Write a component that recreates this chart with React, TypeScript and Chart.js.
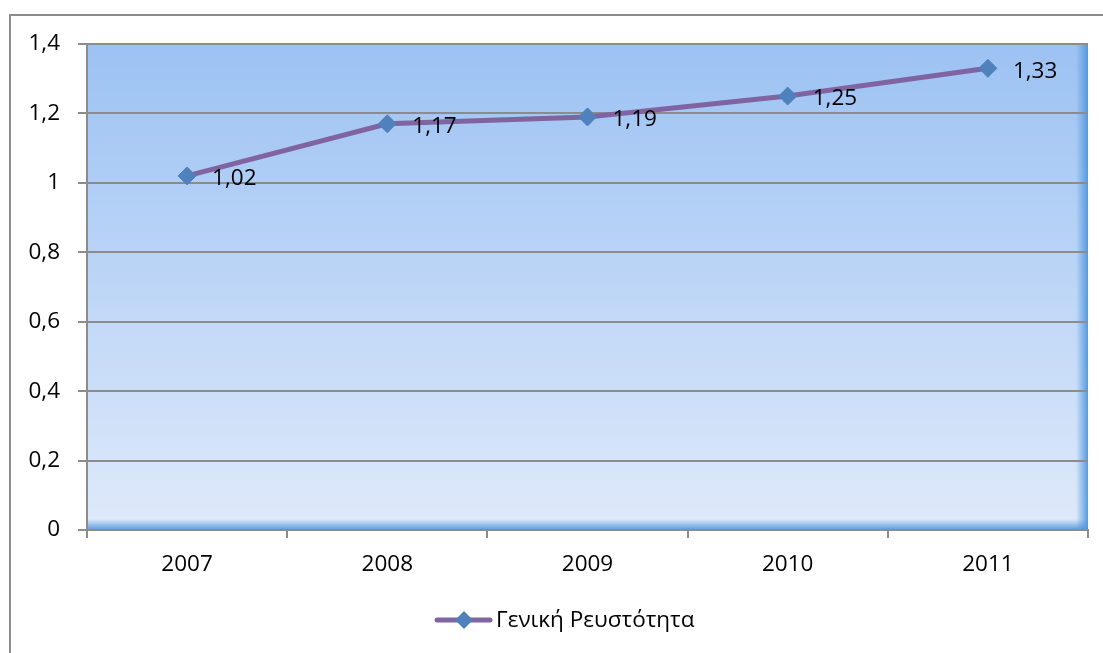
import React, { useEffect, useRef } from "react";
import { Chart, registerables } from "chart.js";

Chart.register(...registerables);

const categories = ["2007", "2008", "2009", "2010", "2011"];
const values = [1.02, 1.17, 1.19, 1.25, 1.33];
const seriesLabel = "Γενική Ρευστότητα";
const yTicks = [0, 0.2, 0.4, 0.6, 0.8, 1, 1.2, 1.4];

const FONT = "'Open Sans', 'Noto Sans', sans-serif";
const fmt = (v: number) => String(v).replace(".", ",");

const bgPlugin = {
  id: "bgPlugin",
  beforeDraw(chart: any) {
    const { ctx, chartArea: a } = chart;
    ctx.save();
    const g = ctx.createLinearGradient(0, a.top, 0, a.bottom);
    g.addColorStop(0, "#9cc2f3");
    g.addColorStop(1, "#dfeafa");
    ctx.fillStyle = g;
    ctx.fillRect(a.left, a.top, a.right - a.left, a.bottom - a.top);
    const gr = ctx.createLinearGradient(a.right - 12, 0, a.right, 0);
    gr.addColorStop(0, "rgba(80,150,220,0)");
    gr.addColorStop(1, "rgba(80,150,220,0.95)");
    ctx.fillStyle = gr;
    ctx.fillRect(a.right - 12, a.top, 12, a.bottom - a.top);
    const gb = ctx.createLinearGradient(0, a.bottom - 11, 0, a.bottom);
    gb.addColorStop(0, "rgba(80,150,220,0)");
    gb.addColorStop(1, "rgba(80,150,220,0.95)");
    ctx.fillStyle = gb;
    ctx.fillRect(a.left, a.bottom - 11, a.right - a.left, 11);
    ctx.restore();
  },
  afterDraw(chart: any) {
    const { ctx } = chart;
    ctx.save();
    ctx.strokeStyle = "#8c8c8c";
    ctx.lineWidth = 2;
    ctx.strokeRect(10, 15, 1300, 800);
    const cx = 437, cy = 620;
    ctx.strokeStyle = "#8064a2";
    ctx.lineWidth = 5;
    ctx.lineCap = "round";
    ctx.beginPath();
    ctx.moveTo(cx, cy);
    ctx.lineTo(cx + 53, cy);
    ctx.stroke();
    ctx.fillStyle = "#4f81bd";
    ctx.beginPath();
    const mx = cx + 27, r = 9;
    ctx.moveTo(mx, cy - r);
    ctx.lineTo(mx + r, cy);
    ctx.lineTo(mx, cy + r);
    ctx.lineTo(mx - r, cy);
    ctx.closePath();
    ctx.fill();
    ctx.fillStyle = "#000";
    ctx.font = `22.5px ${FONT}`;
    ctx.textBaseline = "middle";
    ctx.textAlign = "left";
    ctx.fillText(seriesLabel, cx + 59, cy + 1);
    ctx.restore();
  },
  afterDatasetsDraw(chart: any) {
    const { ctx } = chart;
    const meta = chart.getDatasetMeta(0);
    ctx.save();
    ctx.fillStyle = "#000";
    ctx.font = `22.5px ${FONT}`;
    ctx.textBaseline = "middle";
    ctx.textAlign = "left";
    meta.data.forEach((pt: any, i: number) => {
      ctx.fillText(fmt(values[i]), pt.x + 25, pt.y + 3);
    });
    ctx.restore();
  },
};

export default function App() {
  const ref = useRef<HTMLCanvasElement>(null);
  useEffect(() => {
    document.body.style.margin = "0";
    const chart = new Chart(ref.current!, {
      type: "line",
      data: {
        labels: categories,
        datasets: [
          {
            label: seriesLabel,
            data: values,
            borderColor: "#8064a2",
            borderWidth: 5,
            pointStyle: "rectRot",
            pointRadius: 9,
            pointBackgroundColor: "#4f81bd",
            pointBorderColor: "#4f81bd",
            pointBorderWidth: 1,
            tension: 0,
          },
        ],
      },
      options: {
        animation: false,
        responsive: false,
        layout: { padding: { left: 0, top: 44, right: 15, bottom: 0 } },
        plugins: { legend: { display: false }, tooltip: { enabled: false } },
        scales: {
          x: {
            type: "category",
            offset: true,
            grid: {
              offset: true,
              drawOnChartArea: false,
              drawTicks: true,
              tickLength: 8,
              color: "#8c8c8c",
              lineWidth: 2,
            },
            border: { color: "#8c8c8c", width: 2 },
            ticks: { color: "#000", font: { family: FONT, size: 22.5 }, padding: 13 },
            afterFit(scale: any) {
              scale.height = 123;
            },
          },
          y: {
            min: 0,
            max: 1.4,
            afterBuildTicks(scale: any) {
              scale.ticks = yTicks.map((v) => ({ value: v }));
            },
            grid: { color: "#8c8c8c", lineWidth: 2, tickLength: 9 },
            border: { color: "#8c8c8c", width: 2 },
            ticks: {
              color: "#000",
              font: { family: FONT, size: 22.5 },
              padding: 18,
              callback: (v: any) => fmt(Math.round(Number(v) * 10) / 10),
            },
            afterFit(scale: any) {
              scale.width = 87;
            },
          },
        },
      },
      plugins: [bgPlugin],
    } as any);
    return () => chart.destroy();
  }, []);
  return (
    <div style={{ position: "absolute", left: 0, top: 0, width: 1103, height: 653 }}>
      <canvas ref={ref} width={1103} height={653} style={{ display: "block" }} />
    </div>
  );
}
